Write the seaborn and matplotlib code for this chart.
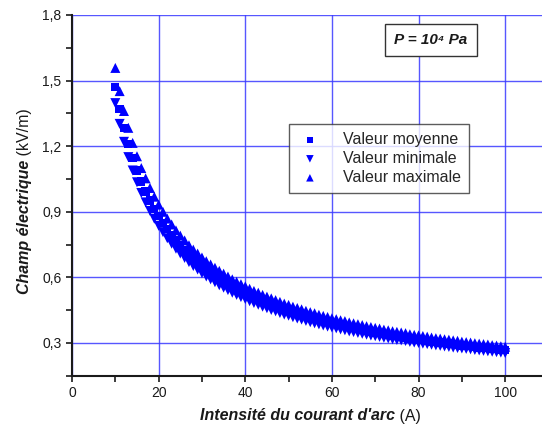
import numpy as np
import pandas as pd
import matplotlib
matplotlib.use("Agg")
import matplotlib.pyplot as plt
import seaborn as sns
from matplotlib.ticker import MultipleLocator

# arc current (A)
courant = np.arange(10, 101)

# electric field (kV/m)
valeur_moyenne = [
    1.470, 1.370, 1.284, 1.211, 1.146, 1.089, 1.038, 0.993, 0.952, 0.914,
    0.880, 0.849, 0.820, 0.794, 0.769, 0.746, 0.725, 0.705, 0.686, 0.669,
    0.652, 0.636, 0.622, 0.608, 0.594, 0.582, 0.570, 0.558, 0.547, 0.537,
    0.527, 0.517, 0.508, 0.500, 0.491, 0.483, 0.475, 0.468, 0.460, 0.453,
    0.447, 0.440, 0.434, 0.428, 0.422, 0.416, 0.411, 0.405, 0.400, 0.395,
    0.390, 0.386, 0.381, 0.377, 0.372, 0.368, 0.364, 0.360, 0.356, 0.352,
    0.348, 0.345, 0.341, 0.338, 0.334, 0.331, 0.328, 0.325, 0.321, 0.318,
    0.316, 0.313, 0.310, 0.307, 0.304, 0.302, 0.299, 0.297, 0.294, 0.292,
    0.289, 0.287, 0.285, 0.282, 0.280, 0.278, 0.276, 0.274, 0.272, 0.269, 0.267,
]
valeur_minimale = [
    1.397, 1.302, 1.220, 1.150, 1.089, 1.035, 0.986, 0.943, 0.904, 0.868,
    0.836, 0.807, 0.779, 0.754, 0.731, 0.709, 0.689, 0.670, 0.652, 0.636,
    0.619, 0.604, 0.591, 0.578, 0.564, 0.553, 0.542, 0.530, 0.520, 0.510,
    0.501, 0.491, 0.483, 0.475, 0.466, 0.459, 0.451, 0.445, 0.437, 0.430,
    0.425, 0.418, 0.412, 0.407, 0.401, 0.395, 0.390, 0.385, 0.380, 0.375,
    0.371, 0.367, 0.362, 0.358, 0.353, 0.350, 0.346, 0.342, 0.338, 0.334,
    0.331, 0.328, 0.324, 0.321, 0.317, 0.314, 0.312, 0.309, 0.305, 0.302,
    0.300, 0.297, 0.295, 0.292, 0.289, 0.287, 0.284, 0.282, 0.279, 0.277,
    0.275, 0.273, 0.271, 0.268, 0.266, 0.264, 0.262, 0.260, 0.258, 0.256, 0.254,
]
valeur_maximale = [
    1.558, 1.452, 1.361, 1.284, 1.215, 1.154, 1.100, 1.053, 1.009, 0.969,
    0.933, 0.900, 0.869, 0.842, 0.815, 0.791, 0.769, 0.747, 0.727, 0.709,
    0.691, 0.674, 0.659, 0.644, 0.630, 0.617, 0.604, 0.591, 0.580, 0.569,
    0.559, 0.548, 0.538, 0.530, 0.520, 0.512, 0.504, 0.496, 0.488, 0.480,
    0.474, 0.466, 0.460, 0.454, 0.447, 0.441, 0.436, 0.429, 0.424, 0.419,
    0.413, 0.409, 0.404, 0.400, 0.394, 0.390, 0.386, 0.382, 0.377, 0.373,
    0.369, 0.366, 0.361, 0.358, 0.354, 0.351, 0.348, 0.345, 0.340, 0.337,
    0.335, 0.332, 0.329, 0.325, 0.322, 0.320, 0.317, 0.315, 0.312, 0.310,
    0.306, 0.304, 0.302, 0.299, 0.297, 0.295, 0.293, 0.290, 0.288, 0.285, 0.283,
]

y_ticks = [0.3, 0.6, 0.9, 1.2, 1.5, 1.8]
y_ticklabels = ["0,3", "0,6", "0,9", "1,2", "1,5", "1,8"]
x_ticks = [0, 20, 40, 60, 80, 100]

sns.set_style("white")
plt.rcParams["font.family"] = ["Liberation Sans", "DejaVu Sans"]

BLUE = "#0000ff"
INK = "#1a1a1a"
W, H = 542, 429

fig = plt.figure(figsize=(W / 100, H / 100), dpi=100)
ax = fig.add_axes([72 / W, 1 - 376 / H, 470 / W, 361 / H])

series = [
    ("Valeur moyenne", valeur_moyenne, "s", 36),
    ("Valeur minimale", valeur_minimale, "v", 52),
    ("Valeur maximale", valeur_maximale, "^", 52),
]
for label, vals, marker, size in series:
    df = pd.DataFrame({"I": courant, "E": vals})
    sns.scatterplot(data=df, x="I", y="E", ax=ax, marker=marker, s=size,
                    color=BLUE, edgecolor="none", label=label, zorder=3)

ax.set_xlim(0, 108.5)
ax.set_ylim(0.149, 1.8)
ax.set_xticks(x_ticks)
ax.set_yticks(y_ticks)
ax.set_yticklabels(y_ticklabels)
ax.xaxis.set_minor_locator(MultipleLocator(10))
ax.yaxis.set_minor_locator(MultipleLocator(0.15))
ax.tick_params(axis="both", which="both", direction="out", length=4,
               width=1.2, color=INK, labelsize=10, labelcolor=INK,
               left=True, bottom=True)
ax.set_xlabel("")
ax.set_ylabel("")

ax.grid(True, which="major", color="#3a3aff", linewidth=1.0, alpha=0.85)
for side in ["top", "right"]:
    ax.spines[side].set_visible(False)
for side in ["left", "bottom"]:
    ax.spines[side].set_color(INK)
    ax.spines[side].set_linewidth(1.5)

leg = ax.legend(loc="upper left", bbox_to_anchor=(0.462, 0.698),
                borderaxespad=0, frameon=True, fancybox=False, fontsize=11.5,
                markerscale=0.75, handletextpad=1.3, labelspacing=0.25,
                borderpad=0.5, handlelength=1.6)
leg.get_frame().set_edgecolor("#333333")
leg.get_frame().set_linewidth(1.0)

ax.text(0.764, 0.931, "P = 10⁴ Pa", transform=ax.transAxes,
        ha="center", va="center", fontsize=11, fontweight="bold",
        fontstyle="italic", color=INK,
        bbox=dict(boxstyle="square,pad=0.6", facecolor="white",
                  edgecolor="#333333", linewidth=1.0))

# axis titles: bold italic part followed by a plain unit
fs = 11.5
bold = dict(fontsize=fs, fontweight="bold", fontstyle="italic", color=INK)
plain = dict(fontsize=fs, color=INK)
r = fig.canvas.get_renderer()

xa = fig.text(0, 1 - 416 / H, "Intensité du courant d'arc", va="center", ha="left", **bold)
xb = fig.text(0, 1 - 416 / H, " (A)", va="center", ha="left", **plain)
wa = xa.get_window_extent(r).width
wb = xb.get_window_extent(r).width
x0 = 310 - (wa + wb) / 2
xa.set_x(x0 / W)
xb.set_x((x0 + wa) / W)

ya = fig.text(25 / W, 0, "Champ électrique", rotation=90, va="bottom", ha="center", **bold)
yb = fig.text(25 / W, 0, " (kV/m)", rotation=90, va="bottom", ha="center", **plain)
ha_ = ya.get_window_extent(r).height
hb_ = yb.get_window_extent(r).height
y0 = (H - 201) - (ha_ + hb_) / 2
ya.set_y(y0 / H)
yb.set_y((y0 + ha_) / H)

fig.savefig("out.png", dpi=100)
